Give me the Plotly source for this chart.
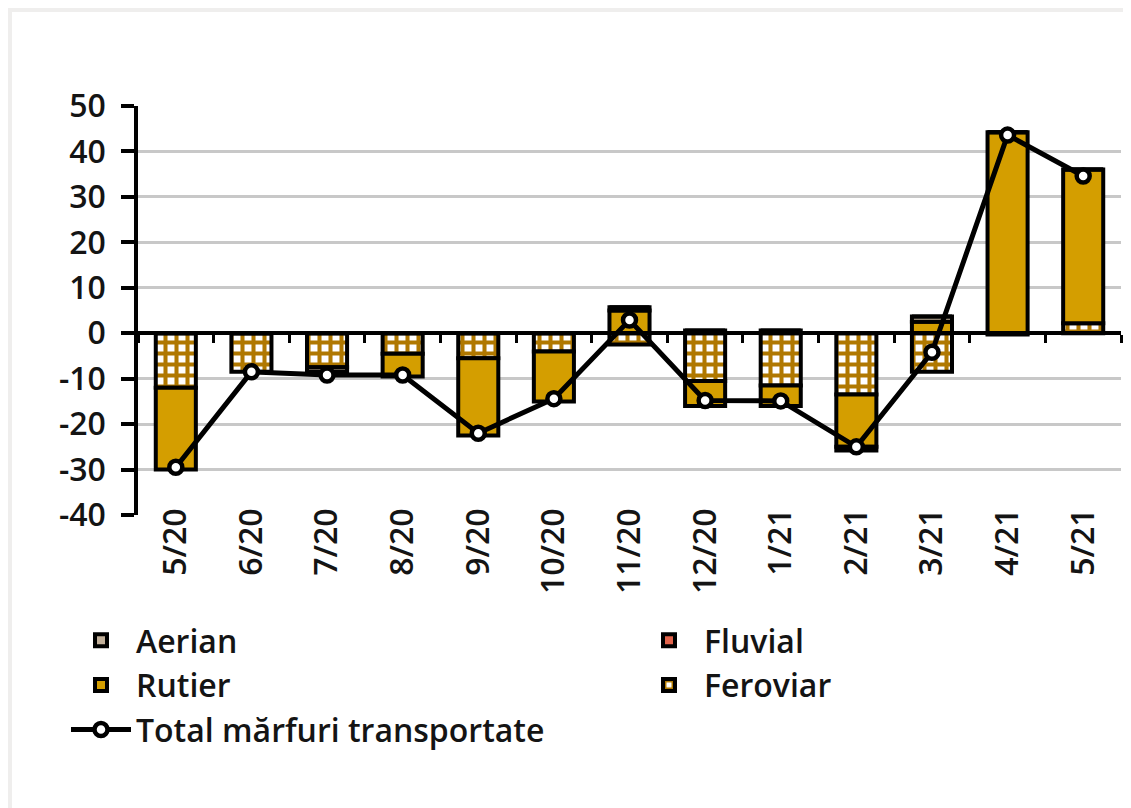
import plotly.graph_objects as go

categories = ['5/20', '6/20', '7/20', '8/20', '9/20', '10/20', '11/20',
              '12/20', '1/21', '2/21', '3/21', '4/21', '5/21']
feroviar = [-12.0, -8.5, -7.5, -4.5, -5.5, -4.0, -2.5, -10.5, -11.5, -13.5, -8.5, -0.3, 2.2]
rutier = [-18.0, 0.0, 0.0, -5.0, -17.0, -11.0, 5.0, -5.5, -4.5, -11.5, 2.5, 44.2, 33.8]
aerian = [0.0, 0.0, -1.0, 0.0, 0.0, 0.0, 0.7, 0.6, 0.6, 0.0, 1.2, 0.0, 0.0]
fluvial = [0.0, 0.0, 0.0, 0.0, 0.0, 0.0, 0.0, 0.0, 0.0, -0.8, 0.0, 0.0, 0.0]
total = [-29.5, -8.5, -9.2, -9.2, -22.0, -14.4, 2.9, -14.8, -14.9, -25.0, -4.2, 43.6, 34.6]
y_ticks = [-40, -30, -20, -10, 0, 10, 20, 30, 40, 50]
y_tick_text = ['-40', '-30', '-20', '-10', '0', '10', '20', '30', '40', '50']

FONT = 'Open Sans'
FS = 32
WEIGHT = 600
TXT = '#141414'
OUTLINE = dict(color='black', width=4)

fig = go.Figure()
fig.add_trace(go.Bar(
    name='Feroviar', x=categories, y=feroviar, legendrank=4, legend='legend2',
    marker=dict(color='white', line=OUTLINE,
                pattern=dict(shape='+', fgcolor='#B07800', bgcolor='white',
                             size=11, solidity=0.6, fillmode='replace'))))
fig.add_trace(go.Bar(name='Rutier', x=categories, y=rutier, legendrank=3,
                     marker=dict(color='#D49E00', line=OUTLINE)))
fig.add_trace(go.Bar(name='Aerian', x=categories, y=aerian, legendrank=1,
                     marker=dict(color='#C2B09A', line=OUTLINE)))
fig.add_trace(go.Bar(name='Fluvial', x=categories, y=fluvial, legendrank=2,
                     legend='legend2',
                     marker=dict(color='#E2634B', line=OUTLINE)))
fig.add_trace(go.Scatter(
    name='Total mărfuri transportate', x=categories, y=total, xaxis='x2',
    mode='lines+markers', legendrank=5,
    line=dict(color='black', width=5),
    marker=dict(symbol='circle', size=13, color='white',
                line=dict(color='black', width=4.5))))

# page offset of the figure (default body margin)
OFF = 8
W, H = 1131 - OFF, 808 - OFF
# plot area in page pixels
PX0, PX1, PY0, PY1 = 138, 1121, 106, 515
L, R = PX0 - OFF, W - (PX1 - OFF)
T, B = PY0 - OFF, H - (PY1 - OFF)
pw, ph = PX1 - PX0, PY1 - PY0

def px_x(p):
    return (p - PX0) / pw

def px_y(p):
    return (PY1 - p) / ph

fig.add_shape(type='rect', xref='paper', yref='paper', layer='below',
              x0=px_x(12), x1=px_x(1140), y0=px_y(820), y1=px_y(12),
              fillcolor='white', line=dict(width=0))

fnt = dict(family=FONT, size=FS, color=TXT, weight=WEIGHT)
leg_common = dict(orientation='v', xanchor='left', yanchor='top', itemwidth=60,
                  font=fnt, bgcolor='rgba(0,0,0,0)', tracegroupgap=0,
                  traceorder='normal')

fig.update_layout(
    width=W, height=H,
    margin=dict(l=L, r=R, t=T, b=B, autoexpand=False),
    paper_bgcolor='#EFEEED', plot_bgcolor='white',
    barmode='relative', bargap=0.47,
    font=fnt,
    showlegend=True,
    legend=dict(x=px_x(66), y=px_y(613), **leg_common),
    legend2=dict(x=px_x(634), y=px_y(613), **leg_common),
    xaxis=dict(type='category', categoryorder='array', categoryarray=categories,
               range=[-0.5, len(categories) - 0.5],
               showline=False, ticks='', tickangle=-90, showgrid=False,
               ticklabelstandoff=-14, tickfont=fnt),
    xaxis2=dict(type='category', overlaying='x', matches='x', anchor='free',
                position=40 / 90, showline=True, linecolor='black', linewidth=3.5,
                ticks='outside', tickson='boundaries', ticklen=8, tickwidth=3,
                tickcolor='black', showticklabels=False, showgrid=False),
    yaxis=dict(range=[-40, 50], tickvals=y_ticks, ticktext=y_tick_text,
               showline=True, linecolor='black', linewidth=3.5,
               ticks='outside', ticklen=13, tickwidth=3.5, tickcolor='black',
               showgrid=True, gridcolor='#C8C8C8', gridwidth=2.5, zeroline=False,
               ticklabelstandoff=9, tickfont=fnt),
)

fig.write_html('out.html')
